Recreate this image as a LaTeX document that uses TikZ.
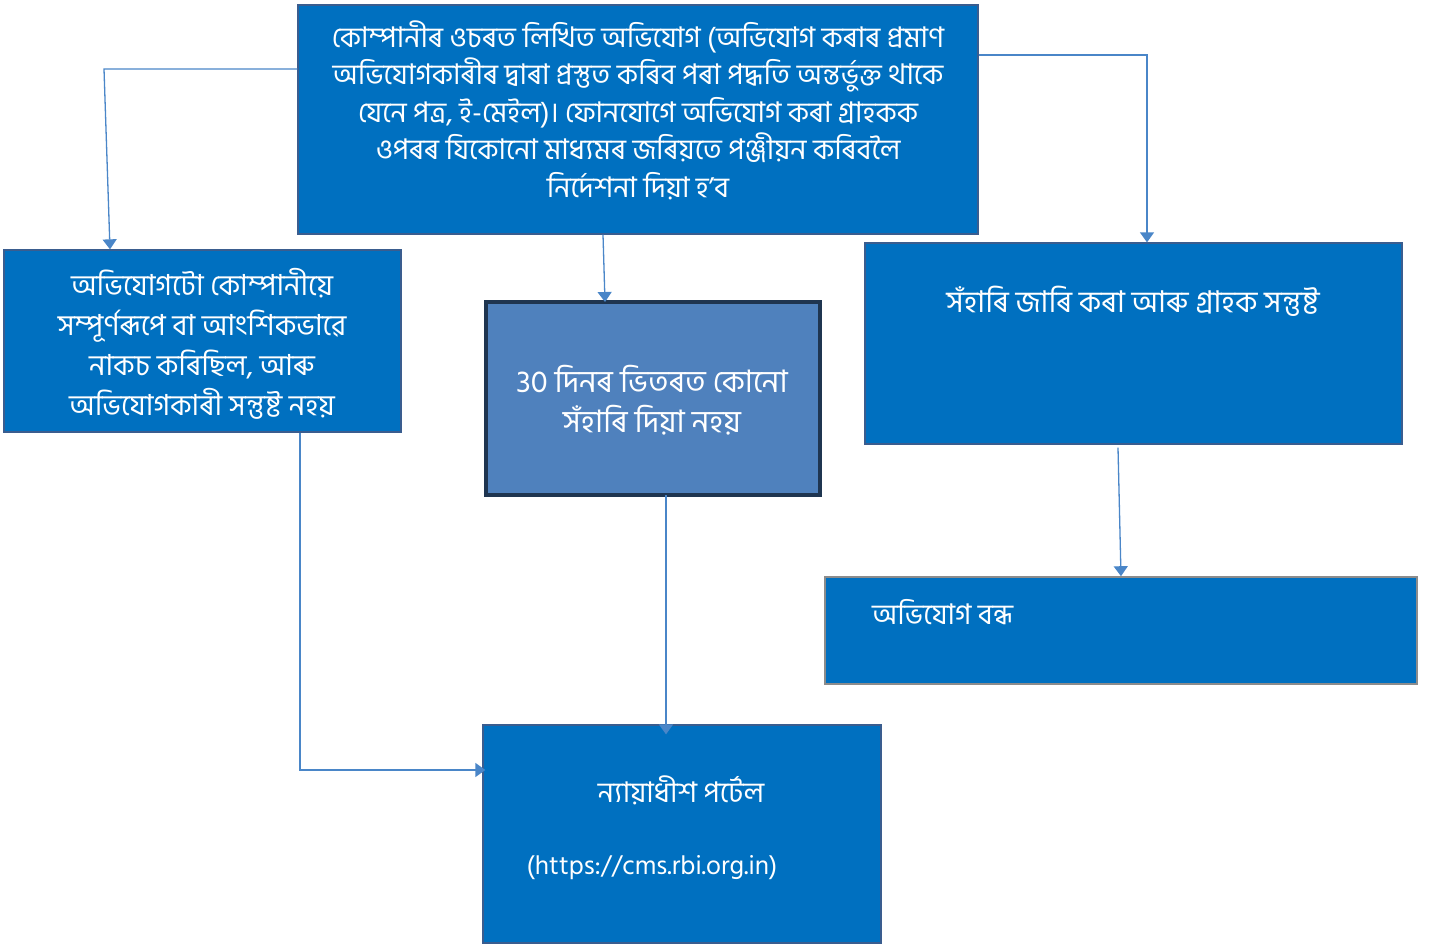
\documentclass[tikz,border=0pt]{standalone}
\usepackage{fontspec}
\setmainfont{Hind Siliguri}[Script=Bengali]
\usetikzlibrary{arrows.meta}
\definecolor{boxblue}{HTML}{0070C0}
\definecolor{midblue}{HTML}{4F81BD}
\definecolor{edgeblue}{HTML}{3A5D8F}
\definecolor{darkedge}{HTML}{1F3550}
\definecolor{lineblue}{HTML}{4A86C8}
\tikzset{
  box/.style={draw=edgeblue, line width=1.3pt, fill=boxblue, inner sep=0pt},
  txt/.style={text=white, font=\fontsize{28.5}{37.5}\selectfont, align=center, inner sep=0pt},
  conn/.style={draw=lineblue, line width=1.3pt, -{Triangle[width=14pt,length=10pt]}}
}
\begin{document}
\begin{tikzpicture}[x=1pt,y=-1pt]
\useasboundingbox (0,0) rectangle (1430,945);
% boxes
\node[box, minimum width=680pt, minimum height=229pt] (top) at (638,119.5) {};
\node[box, minimum width=397pt, minimum height=182pt] (left) at (202.5,341) {};
\node[box, fill=midblue, draw=darkedge, line width=4pt, minimum width=334pt, minimum height=193pt] (mid) at (653,398.5) {};
\node[box, minimum width=537pt, minimum height=201pt] (right) at (1133.5,343.5) {};
\node[box, draw=gray!90, line width=1.6pt, minimum width=592pt, minimum height=107pt] (close) at (1121,630.5) {};
\node[box, minimum width=398pt, minimum height=218pt] (portal) at (682,834) {};
% texts
\node[txt] (ttop) at (638,110) {কোম্পানীৰ ওচৰত লিখিত অভিযোগ (অভিযোগ কৰাৰ প্ৰমাণ\\অভিযোগকাৰীৰ দ্বাৰা প্ৰস্তুত কৰিব পৰা পদ্ধতি অন্তৰ্ভুক্ত থাকে\\যেনে পত্ৰ, ই-মেইল)। ফোনযোগে অভিযোগ কৰা গ্ৰাহকক\\ওপৰৰ যিকোনো মাধ্যমৰ জৰিয়তে পঞ্জীয়ন কৰিবলৈ\\নিৰ্দেশনা দিয়া হ'ব};
\node[txt, font=\fontsize{29}{40}\selectfont] (tleft) at (202,344) {অভিযোগটো কোম্পানীয়ে\\সম্পূৰ্ণৰূপে বা আংশিকভাৱে\\নাকচ কৰিছিল, আৰু\\অভিযোগকাৰী সন্তুষ্ট নহয়};
\node[txt, font=\fontsize{31}{40}\selectfont] (tmid) at (652,400) {30 দিনৰ ভিতৰত কোনো\\সঁহাৰি দিয়া নহয়};
\node[txt, font=\fontsize{30}{40}\selectfont] (tright) at (1133,301) {সঁহাৰি জাৰি কৰা আৰু গ্ৰাহক সন্তুষ্ট};
\node[txt, anchor=west] (tclose) at (872,612) {অভিযোগ বন্ধ};
\node[txt] (tportal) at (681,790) {ন্যায়াধীশ পৰ্টেল};
\node[txt, font=\fontsize{26.5}{36}\selectfont] (turl) at (652,868) {(https://cms.rbi.org.in)};
% connectors
\coordinate (c1) at (104,69);
\coordinate (c2) at (1147,55);
\coordinate (c3) at (300,770);
\draw[conn] ([yshift=50.5pt]top.west) -- (c1) -- ([xshift=-92.5pt]left.north);
\draw[conn] ([yshift=64.5pt]top.east) -- (c2) -- ([xshift=13.5pt]right.north);
\draw[conn] ([xshift=-35pt]top.south) -- ([xshift=-48pt,yshift=-2pt]mid.north);
\draw[conn] ([xshift=-15.5pt,yshift=-3pt]right.south) -- ([xshift=0pt]close.north);
\draw[conn] ([xshift=97.5pt]left.south) -- (c3) -- ([xshift=3pt,yshift=64pt]portal.west);
\draw[conn] ([xshift=13pt,yshift=2pt]mid.south) -- ([xshift=-16pt,yshift=-10pt]portal.north);
\end{tikzpicture}
\end{document}
